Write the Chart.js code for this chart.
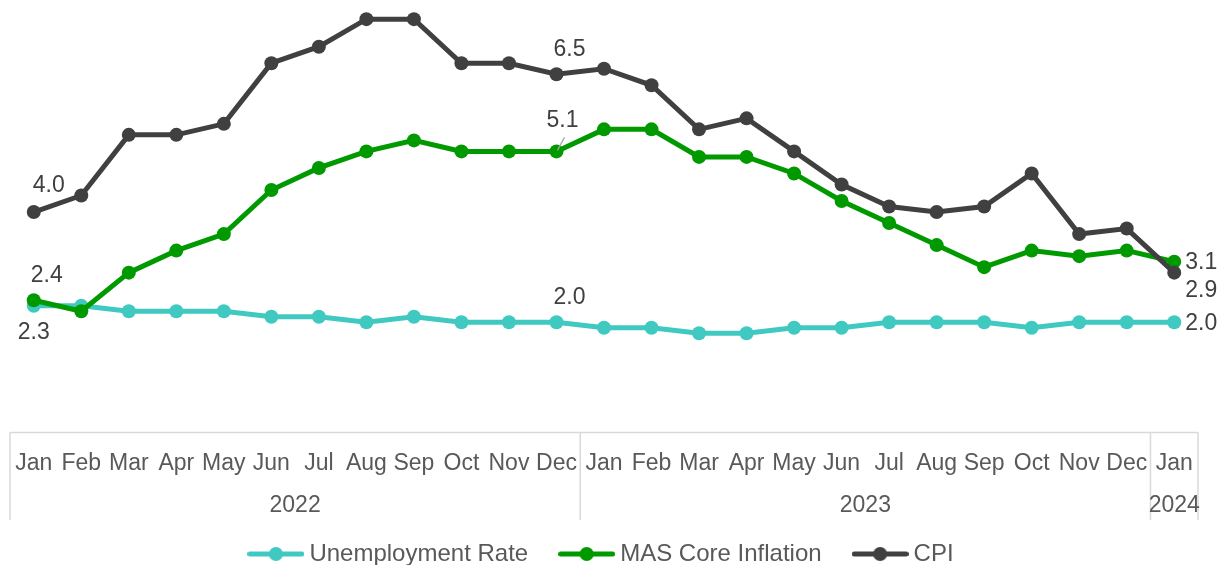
<!DOCTYPE html>
<html>
<head>
<meta charset="utf-8">
<script src="https://cdn.jsdelivr.net/npm/chart.js@4/dist/chart.umd.min.js"></script>
<style>
  html, body { margin: 0; padding: 0; background: #ffffff; }
  #wrap { width: 1223px; height: 565px; }
</style>
</head>
<body>
<div id="wrap"><canvas id="c" width="1223" height="565"></canvas></div>
<script>
// ---- Data ----
const months = ['Jan','Feb','Mar','Apr','May','Jun','Jul','Aug','Sep','Oct','Nov','Dec',
                'Jan','Feb','Mar','Apr','May','Jun','Jul','Aug','Sep','Oct','Nov','Dec','Jan'];
const years = ['2022', '2023', '2024'];
const yearStartIndex = [0, 12, 24];
const unemployment = [2.3, 2.3, 2.2, 2.2, 2.2, 2.1, 2.1, 2.0, 2.1, 2.0, 2.0, 2.0,
                      1.9, 1.9, 1.8, 1.8, 1.9, 1.9, 2.0, 2.0, 2.0, 1.9, 2.0, 2.0, 2.0];
const masCore = [2.4, 2.2, 2.9, 3.3, 3.6, 4.4, 4.8, 5.1, 5.3, 5.1, 5.1, 5.1,
                 5.5, 5.5, 5.0, 5.0, 4.7, 4.2, 3.8, 3.4, 3.0, 3.3, 3.2, 3.3, 3.1];
const cpi = [4.0, 4.3, 5.4, 5.4, 5.6, 6.7, 7.0, 7.5, 7.5, 6.7, 6.7, 6.5,
             6.6, 6.3, 5.5, 5.7, 5.1, 4.5, 4.1, 4.0, 4.1, 4.7, 3.6, 3.7, 2.9];
const seriesNames = ['Unemployment Rate', 'MAS Core Inflation', 'CPI'];
// indices of points carrying a data label, per series
const labelledPoints = [[0, 11, 24], [0, 11, 24], [0, 11, 24]];

const colors = ['#40C9C1', '#009900', '#404040'];
const FONT = '"Liberation Sans", Arial, sans-serif';

function legendSwatch(color) {
  const c = document.createElement('canvas');
  c.width = 57; c.height = 16;
  const g = c.getContext('2d');
  g.strokeStyle = color; g.lineWidth = 5; g.lineCap = 'round';
  g.beginPath(); g.moveTo(2.5, 8); g.lineTo(54.5, 8); g.stroke();
  g.fillStyle = color;
  g.beginPath(); g.arc(28.5, 8, 7, 0, Math.PI * 2); g.fill();
  return c;
}

// label offsets [series][k] -> {dx, dy, align}
const labelPlacement = [
  [{dx: 0, dy: 27, a: 'center'}, {dx: 13, dy: -25, a: 'center'}, {dx: 11, dy: 1, a: 'left'}],
  [{dx: 13, dy: -25, a: 'center'}, {dx: 6, dy: -31, a: 'center', leader: true}, {dx: 11, dy: 1, a: 'left'}],
  [{dx: 15, dy: -26, a: 'center'}, {dx: 13, dy: -25, a: 'center'}, {dx: 11, dy: 18, a: 'left'}]
];

const decorPlugin = {
  id: 'decor',
  afterDraw(chart) {
    const ctx = chart.ctx;
    const x = chart.scales.x;
    const area = chart.chartArea;
    const bottom = area.bottom;
    const boxBottom = 520;
    ctx.save();
    ctx.strokeStyle = '#d9d9d9';
    ctx.lineWidth = 1.5;
    const seps = [area.left];
    for (let i = 1; i < yearStartIndex.length; i++) {
      const k = yearStartIndex[i];
      seps.push((x.getPixelForValue(k - 1) + x.getPixelForValue(k)) / 2);
    }
    seps.push(area.right);
    ctx.beginPath();
    ctx.moveTo(area.left, bottom); ctx.lineTo(area.right, bottom);
    seps.forEach(s => { ctx.moveTo(s, bottom); ctx.lineTo(s, boxBottom); });
    ctx.stroke();
    // year labels
    ctx.fillStyle = '#595959';
    ctx.font = '23px ' + FONT;
    ctx.textAlign = 'center';
    ctx.textBaseline = 'middle';
    for (let i = 0; i < years.length; i++) {
      ctx.fillText(years[i], (seps[i] + seps[i + 1]) / 2, 506);
    }
    ctx.restore();
  },
  afterDatasetsDraw(chart) {
    const ctx = chart.ctx;
    ctx.save();
    ctx.font = '23px ' + FONT;
    ctx.fillStyle = '#404040';
    ctx.textBaseline = 'middle';
    chart.data.datasets.forEach((ds, si) => {
      const meta = chart.getDatasetMeta(si);
      labelledPoints[si].forEach((idx, k) => {
        const pt = meta.data[idx];
        const p = labelPlacement[si][k];
        const tx = pt.x + p.dx, ty = pt.y + p.dy;
        if (p.leader) {
          ctx.strokeStyle = '#a6a6a6'; ctx.lineWidth = 1.2;
          ctx.beginPath(); ctx.moveTo(pt.x + 8, ty + 17); ctx.lineTo(pt.x + 1, pt.y - 1); ctx.stroke();
        }
        ctx.textAlign = p.a;
        ctx.fillText(ds.data[idx].toFixed(1), tx, ty);
      });
    });
    ctx.restore();
  }
};

const seriesData = [unemployment, masCore, cpi];
const datasets = seriesData.map((d, i) => ({
  label: seriesNames[i],
  data: d,
  borderColor: colors[i],
  backgroundColor: colors[i],
  pointBackgroundColor: colors[i],
  pointBorderWidth: 0,
  pointRadius: 7,
  borderWidth: 5,
  tension: 0,
  clip: false,
  order: 3 - i,
  pointStyle: 'circle'
}));

new Chart(document.getElementById('c'), {
  type: 'line',
  data: { labels: months, datasets },
  options: {
    responsive: false,
    animation: false,
    events: [],
    layout: { padding: { top: 1, left: 10, right: 25, bottom: -11 } },
    scales: {
      y: { display: false, min: 0, max: 7.72 },
      x: {
        offset: true,
        grid: { display: false },
        border: { display: false },
        ticks: {
          autoSkip: false, maxRotation: 0, minRotation: 0,
          color: '#595959', font: { family: FONT, size: 23 }, padding: 9
        },
        afterFit(scale) { scale.height = 72.5; }
      }
    },
    plugins: {
      tooltip: { enabled: false },
      legend: {
        position: 'bottom',
        labels: {
          usePointStyle: true,
          pointStyleWidth: 43,
          padding: 37,
          color: '#595959',
          font: { family: FONT, size: 24 },
          sort: (a, b) => a.datasetIndex - b.datasetIndex,
          generateLabels(chart) {
            return chart.data.datasets.map((ds, i) => ({
              text: ds.label,
              pointStyle: legendSwatch(colors[i]),
              fillStyle: colors[i],
              strokeStyle: colors[i],
              lineWidth: 0,
              fontColor: '#595959',
              hidden: false,
              datasetIndex: i
            }));
          }
        }
      }
    }
  },
  plugins: [decorPlugin]
});
</script>
</body>
</html>
